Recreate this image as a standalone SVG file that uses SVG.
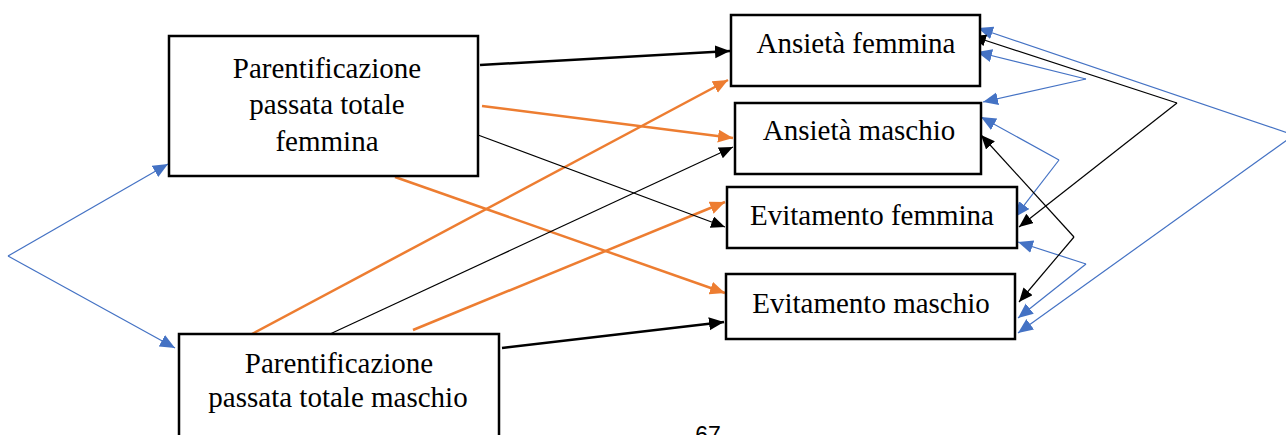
<svg xmlns="http://www.w3.org/2000/svg" width="1286" height="435" viewBox="0 0 1286 435">
<style>
.box{fill:#fff;stroke:#000;stroke-width:2.5}
.t{font-family:"Liberation Serif","Times New Roman",serif;font-size:29px;fill:#000;text-anchor:middle}
.bk{stroke:#000;stroke-width:2.5;fill:none}
.bt{stroke:#000;stroke-width:1.2;fill:none}
.or{stroke:#ED7D31;stroke-width:2.5;fill:none}
.bl{stroke:#4472C4;stroke-width:1.2;fill:none}
</style>
<defs>
<marker id="mk" markerUnits="userSpaceOnUse" markerWidth="16" markerHeight="14" refX="15" refY="6.5" orient="auto"><path d="M0,0 L15,6.5 L0,13 Z" fill="#000"/></marker>
<marker id="mt" markerUnits="userSpaceOnUse" markerWidth="15" markerHeight="13" refX="14" refY="6" orient="auto"><path d="M0,0 L14,6 L0,12 Z" fill="#000"/></marker>
<marker id="mo" markerUnits="userSpaceOnUse" markerWidth="16" markerHeight="14" refX="15" refY="6.5" orient="auto"><path d="M0,0 L15,6.5 L0,13 Z" fill="#ED7D31"/></marker>
<marker id="mb" markerUnits="userSpaceOnUse" markerWidth="16" markerHeight="14" refX="15" refY="6.5" orient="auto"><path d="M0,0 L15,6.5 L0,13 Z" fill="#4472C4"/></marker>
</defs>

<g id="connectors">
<path class="bk" d="M480,65 L730,51" marker-end="url(#mk)"/>
<path class="bk" d="M502,348 L724,322" marker-end="url(#mk)"/>
<path class="or" d="M482,106 L733,138" marker-end="url(#mo)"/>
<path class="or" d="M395,177 L725,293" marker-end="url(#mo)"/>
<path class="or" d="M252,334 L728,80" marker-end="url(#mo)"/>
<path class="or" d="M413,330 L725,202" marker-end="url(#mo)"/>
<path class="bt" d="M478,135 L725,227" marker-end="url(#mt)"/>
<path class="bt" d="M330,334 L733,147" marker-end="url(#mt)"/>
<path class="bl" d="M8,256 L168,164" marker-end="url(#mb)"/>
<path class="bl" d="M8,256 L175,348" marker-end="url(#mb)"/>
<path class="bl" d="M1294,135 L978,28" marker-end="url(#mb)"/>
<path class="bl" d="M1294,135 L1018,333" marker-end="url(#mb)"/>
<path class="bl" d="M1086,79 L977,52" marker-end="url(#mb)"/>
<path class="bl" d="M1086,79 L983,102" marker-end="url(#mb)"/>
<path class="bl" d="M1059,160 L981,117" marker-end="url(#mb)"/>
<path class="bl" d="M1059,160 L1015,217" marker-end="url(#mb)"/>
<path class="bl" d="M1086,264 L1018,242" marker-end="url(#mb)"/>
<path class="bl" d="M1086,264 L1018,318" marker-end="url(#mb)"/>
<path class="bt" d="M1177,103 L972,36" marker-end="url(#mt)"/>
<path class="bt" d="M1177,103 L1019,227" marker-end="url(#mt)"/>
<path class="bt" d="M1074,237 L981,135" marker-end="url(#mt)"/>
<path class="bt" d="M1074,237 L1019,302" marker-end="url(#mt)"/>
</g>

<g id="pf">
<rect class="box" x="169" y="36" width="309" height="140"/>
<text class="t" x="327" y="78">Parentificazione</text>
<text class="t" x="327" y="114">passata totale</text>
<text class="t" x="327" y="151">femmina</text>
</g>
<g id="pm">
<rect class="box" x="179" y="334" width="320" height="120"/>
<text class="t" x="339" y="373">Parentificazione</text>
<text class="t" x="338" y="407">passata totale maschio</text>
</g>
<g id="af">
<rect class="box" x="731" y="15" width="249" height="71"/>
<text class="t" x="856" y="53">Ansietà femmina</text>
</g>
<g id="am">
<rect class="box" x="735" y="103" width="246" height="71"/>
<text class="t" x="859" y="140">Ansietà maschio</text>
</g>
<g id="ef">
<rect class="box" x="727" y="187" width="290" height="61"/>
<text class="t" x="872" y="225">Evitamento femmina</text>
</g>
<g id="em">
<rect class="box" x="726" y="274" width="289" height="65"/>
<text class="t" x="871" y="313">Evitamento maschio</text>
</g>
<text x="708" y="443" font-family="'Liberation Sans',Arial,sans-serif" font-size="23" text-anchor="middle" fill="#000">67</text>
</svg>
